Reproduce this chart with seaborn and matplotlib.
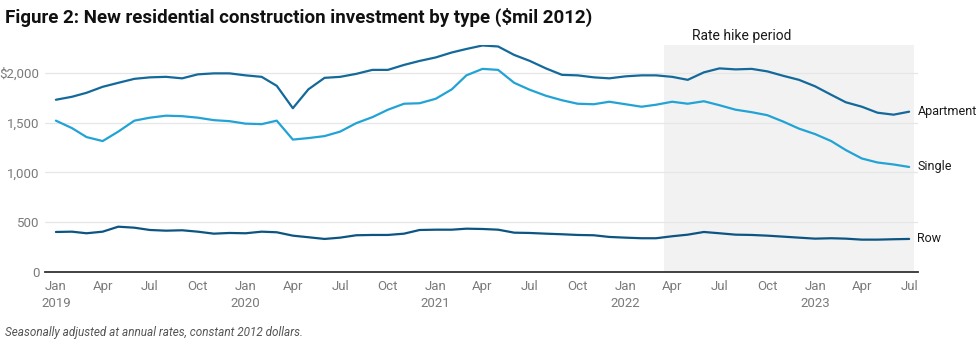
import matplotlib
matplotlib.use("Agg")
import matplotlib.pyplot as plt
import numpy as np
import pandas as pd
import seaborn as sns

# Monthly series, Jan 2019 - Jul 2023 ($ millions, 2012 dollars, SAAR)
months = pd.date_range("2019-01-01", periods=55, freq="MS")

apartment = [1730, 1760, 1800, 1860, 1900, 1940, 1955, 1960, 1945, 1985,
             1995, 1995, 1975, 1960, 1870, 1645, 1835, 1950, 1960, 1990,
             2030, 2030, 2080, 2120, 2155, 2205, 2240, 2275, 2265, 2180,
             2120, 2045, 1980, 1975, 1955, 1945, 1965, 1975, 1975, 1960,
             1930, 2005, 2045, 2035, 2040, 2015, 1970, 1930, 1865, 1780,
             1705, 1660, 1600, 1580, 1610]

single = [1520, 1445, 1355, 1315, 1410, 1520, 1550, 1570, 1565, 1550,
          1525, 1515, 1490, 1485, 1520, 1330, 1345, 1365, 1410, 1495,
          1555, 1630, 1690, 1695, 1740, 1835, 1975, 2040, 2030, 1900,
          1830, 1770, 1725, 1690, 1685, 1710, 1685, 1660, 1680, 1710,
          1690, 1715, 1675, 1630, 1605, 1575, 1510, 1440, 1385, 1315,
          1225, 1140, 1100, 1080, 1055]

row = [402, 405, 389, 405, 455, 445, 422, 415, 419, 405,
       385, 392, 389, 405, 399, 365, 349, 332, 345, 369,
       372, 372, 385, 422, 425, 425, 435, 432, 425, 395,
       392, 385, 379, 372, 369, 352, 345, 339, 339, 359,
       375, 402, 389, 375, 372, 365, 355, 345, 335, 339,
       335, 325, 325, 329, 332]

series_names = ["Apartment", "Single", "Row"]
colors = {"Apartment": "#14699b", "Single": "#22a3d6", "Row": "#0c5583"}

y_ticks = [0, 500, 1000, 1500, 2000]
y_tick_labels = ["0", "500", "1,000", "1,500", "$2,000"]

hike_start = pd.Timestamp("2022-03-16")
hike_end = pd.Timestamp("2023-07-10")

df = pd.DataFrame({
    "month": np.tile(months, 3),
    "type": np.repeat(series_names, len(months)),
    "value": apartment + single + row,
})

sns.set_theme(style="white")
plt.rcParams["font.family"] = ["Roboto", "DejaVu Sans"]

fig = plt.figure(figsize=(9.8, 3.45), dpi=100)
ax = fig.add_axes([0.0459, 0.2116, 0.8908, 0.658])

ax.axvspan(hike_start, hike_end, color="#f2f2f2", zorder=0, lw=0)

sns.lineplot(data=df, x="month", y="value", hue="type", palette=colors,
             linewidth=1.6, legend=False, ax=ax, zorder=3)

x_left = months[0] - pd.Timedelta(days=21)
x_right = months[-1] + pd.Timedelta(days=17)
ax.set_xlim(x_left, x_right)
ax.set_ylim(0, 2280)

ax.set_yticks(y_ticks)
ax.set_yticklabels(y_tick_labels)
ax.yaxis.grid(True, color="#e6e6e6", linewidth=0.9, zorder=1)
ax.set_axisbelow(True)

tick_dates = months[::3]
tick_labels = []
for d in tick_dates:
    lab = d.strftime("%b")
    if d.month == 1:
        lab += "\n" + str(d.year)
    tick_labels.append(lab)
ax.set_xticks(tick_dates)
ax.set_xticklabels(tick_labels, linespacing=1.35)

ax.tick_params(axis="both", length=0, labelsize=9.5, labelcolor="#7a7a7a")
ax.tick_params(axis="y", pad=4)
ax.tick_params(axis="x", pad=6)

for side in ["top", "right", "left"]:
    ax.spines[side].set_visible(False)
ax.spines["bottom"].set_color("#333333")
ax.spines["bottom"].set_linewidth(1.3)
ax.set_xlabel("")
ax.set_ylabel("")

# end-of-line labels
for name, vals in zip(series_names, [apartment, single, row]):
    ax.annotate(name, xy=(months[-1], vals[-1]), xytext=(6, 0),
                textcoords="offset points", va="center", ha="left",
                fontsize=9, color="#1a1a1a", annotation_clip=False)

ax.text(hike_start + (hike_end - hike_start) / 2 - pd.Timedelta(days=90),
        1.01, "Rate hike period", transform=ax.get_xaxis_transform(),
        ha="center", va="bottom", fontsize=10, color="#1a1a1a")

fig.text(0.005, 0.95, "Figure 2: New residential construction investment by type ($mil 2012)",
         fontsize=13.5, fontweight="bold", color="#111111", ha="left", va="center")
fig.text(0.005, 0.035, "Seasonally adjusted at annual rates, constant 2012 dollars.",
         fontsize=8.5, style="italic", color="#555555", ha="left", va="center")

fig.savefig("out.png", dpi=100)
